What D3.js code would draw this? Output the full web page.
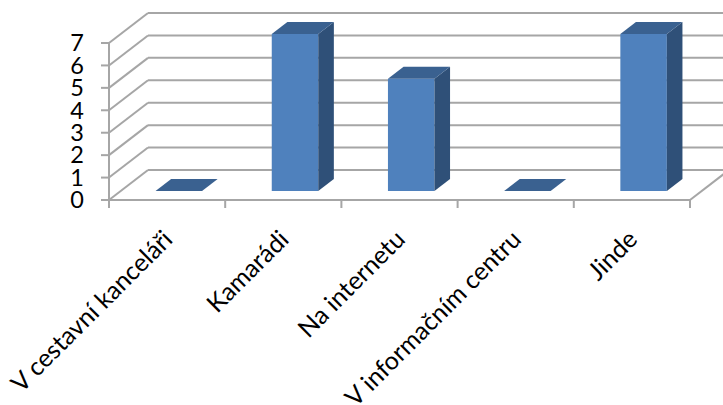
<!DOCTYPE html>
<html lang="cs">
<head>
<meta charset="utf-8">
<script src="https://cdn.jsdelivr.net/npm/d3@7"></script>
<style>
html, body { margin: 0; background: #fff; }
svg { display: block; }
text { font-family: Lato, "Open Sans", sans-serif; fill: #000; }
</style>
</head>
<body>
<svg id="chart" width="723" height="405"></svg>
<script>
// Počet odpovědí podle místa, kde respondenti hledali informace
const categories = ["V cestavní kanceláři", "Kamarádi", "Na internetu", "V informačním centru", "Jinde"];
const counts = [0, 7, 5, 0, 7];
const yTicks = [0, 1, 2, 3, 4, 5, 6, 7];

const svg = d3.select("#chart");
const x = d3.scaleBand().domain(categories).range([109, 690]).paddingInner(0).paddingOuter(0);
const y = d3.scaleLinear().domain([0, 7]).range([200, 43]);

// Oblique projection: depth 0 is the front plane, depth 1 the back wall
const depthX = 39, depthY = -30;
const ox = d => d * depthX;
const oy = d => d * depthY;

const gridColor = "#a6a6a6";
const grid = svg.append("g").attr("fill", "none").attr("stroke", gridColor).attr("stroke-width", 2);

// Back wall gridlines, running to the right edge of the frame
grid.selectAll("line.back").data(yTicks).join("line")
  .attr("class", "back")
  .attr("x1", x.range()[0] + ox(1)).attr("x2", 723)
  .attr("y1", d => y(d) + oy(1)).attr("y2", d => y(d) + oy(1));

// Side wall diagonals from the value axis back to the wall
grid.selectAll("line.side").data(yTicks).join("line")
  .attr("class", "side")
  .attr("x1", x.range()[0]).attr("x2", x.range()[0] + ox(1))
  .attr("y1", d => y(d)).attr("y2", d => y(d) + oy(1));

// Value axis with its short outer ticks
grid.append("line")
  .attr("x1", x.range()[0]).attr("x2", x.range()[0])
  .attr("y1", y(7)).attr("y2", y(0) + 8);
grid.selectAll("line.ytick").data(yTicks).join("line")
  .attr("class", "ytick")
  .attr("x1", x.range()[0] - 8).attr("x2", x.range()[0])
  .attr("y1", d => y(d)).attr("y2", d => y(d));

// Floor front edge, category ticks and right floor diagonal
grid.append("line")
  .attr("x1", x.range()[0]).attr("x2", x.range()[1])
  .attr("y1", y(0)).attr("y2", y(0));
grid.selectAll("line.xtick").data(categories).join("line")
  .attr("class", "xtick")
  .attr("x1", d => x(d) + x.bandwidth()).attr("x2", d => x(d) + x.bandwidth())
  .attr("y1", y(0)).attr("y2", y(0) + 8);
grid.append("line")
  .attr("x1", x.range()[1]).attr("x2", x.range()[1] + ox(1))
  .attr("y1", y(0)).attr("y2", y(0) + oy(1));

// Column boxes: front face, roof and side face
const barWidth = 46.5, near = 0.3, far = 0.7;
const rows = categories.map((c, i) => ({ c, v: counts[i] }));
const left = d => x(d.c) + (x.bandwidth() - barWidth) / 2 + ox(near);
const right = d => left(d) + barWidth;
const baseY = y(0) + oy(near);
const topY = d => baseY - (y(0) - y(d.v));
const dx = ox(far - near) , dy = oy(far - near);
const path = pts => "M" + pts.map(p => p.join(",")).join("L") + "Z";

const bars = svg.append("g").selectAll("g").data(rows).join("g");
bars.append("path")
  .attr("fill", "#4f81bd")
  .attr("d", d => path([[left(d), baseY], [right(d), baseY], [right(d), topY(d)], [left(d), topY(d)]]));
bars.append("path")
  .attr("fill", "#2f5078")
  .attr("d", d => path([[right(d), baseY], [right(d) + dx, baseY + dy], [right(d) + dx, topY(d) + dy], [right(d), topY(d)]]));
bars.append("path")
  .attr("fill", "#3a6190")
  .attr("d", d => path([[left(d), topY(d)], [right(d), topY(d)], [right(d) + dx, topY(d) + dy], [left(d) + dx, topY(d) + dy]]));

// Value labels
svg.append("g").selectAll("text").data(yTicks).join("text")
  .attr("x", 84).attr("y", d => y(d))
  .attr("dy", "0.35em")
  .attr("text-anchor", "end")
  .attr("font-size", 23.5)
  .text(d => d);

// Category labels, rotated and ending under each category
svg.append("g").selectAll("text").data(categories).join("text")
  .attr("text-anchor", "end")
  .attr("font-size", 25)
  .attr("transform", d => `translate(${x(d) + x.bandwidth() / 2 + 7},${y(0) + 41}) rotate(-45)`)
  .text(d => d);
</script>
</body>
</html>
